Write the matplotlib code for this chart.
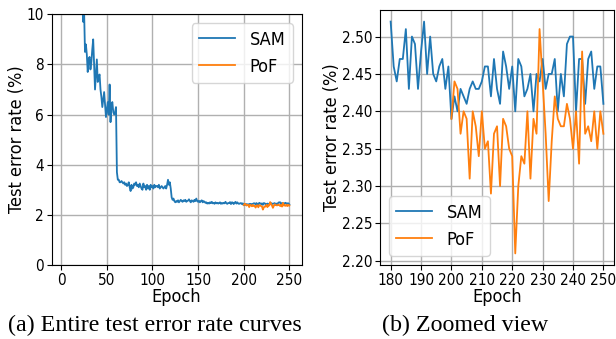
import matplotlib
matplotlib.use('Agg')
import matplotlib.pyplot as plt
import numpy as np

# SAM test error (%) per epoch (epochs 1..250)
sam_1_22 = [45, 32, 26, 22, 20, 18.5, 17, 16, 15.2, 14.5, 14, 13.5, 13, 12.7,
            12.4, 12, 11.8, 11.5, 11.3, 11.0, 10.8, 10.6]
sam_23_64 = [10.5, 9.7, 10.2, 8.5, 8.8, 8.4, 7.7, 8.2, 8.3, 7.8, 8.1, 8.6, 9.0, 8.0,
             7.0, 7.6, 8.2, 7.3, 7.5, 7.6, 7.0, 6.7, 6.3, 6.6, 6.9, 6.4, 5.9, 6.2,
             6.5, 6.0, 7.2, 5.7, 6.4, 6.5, 6.1, 6.0, 6.1, 6.3, 3.7, 3.4, 3.4, 3.3]
sam_65_120 = [3.3, 3.35, 3.3, 3.25, 3.3, 3.2, 3.25, 3.15, 3.2, 3.3, 3.1, 2.95, 3.2, 3.05,
              3.1, 3.25, 3.2, 3.3, 3.15, 3.2, 3.1, 3.25, 3.15, 3.05, 3.0, 3.25, 3.1, 3.15,
              3.0, 3.2, 3.05, 3.15, 3.0, 3.2, 3.1, 3.15, 3.05, 3.2, 3.1, 3.15, 3.15, 3.1,
              3.2, 3.05, 3.1, 3.15, 3.1, 3.05, 3.1, 3.15, 3.05, 3.2, 3.4, 3.2, 3.3, 3.05]
sam_121_179 = [2.7, 2.6, 2.65, 2.55, 2.5, 2.55, 2.52, 2.58, 2.5, 2.55, 2.6, 2.55, 2.52, 2.58,
               2.55, 2.6, 2.52, 2.55, 2.57, 2.62, 2.55, 2.5, 2.58, 2.55, 2.52, 2.6, 2.55, 2.65,
               2.55, 2.52, 2.56, 2.5, 2.55, 2.58, 2.5, 2.55, 2.52, 2.48, 2.5, 2.45, 2.48, 2.45,
               2.5, 2.47, 2.52, 2.46, 2.48, 2.44, 2.5, 2.46, 2.48, 2.45, 2.47, 2.5, 2.44, 2.47,
               2.45, 2.48, 2.46]
sam_180_250 = [2.52, 2.46, 2.44, 2.47, 2.47, 2.51, 2.43, 2.50, 2.49, 2.43, 2.48, 2.52, 2.45, 2.50,
               2.45, 2.44, 2.46, 2.47, 2.43, 2.46, 2.39, 2.42, 2.40, 2.43, 2.42, 2.41, 2.43, 2.44,
               2.43, 2.43, 2.44, 2.46, 2.46, 2.42, 2.47, 2.43, 2.41, 2.48, 2.46, 2.43, 2.46, 2.40,
               2.47, 2.46, 2.42, 2.43, 2.45, 2.40, 2.45, 2.44, 2.47, 2.43, 2.45, 2.45, 2.47, 2.40,
               2.45, 2.42, 2.49, 2.50, 2.50, 2.40, 2.47, 2.47, 2.41, 2.47, 2.48, 2.43, 2.46, 2.46,
               2.41]
# PoF test error (%) for epochs 200..250
pof_200_250 = [2.39, 2.44, 2.43, 2.37, 2.40, 2.39, 2.31, 2.40, 2.38, 2.34, 2.40, 2.35, 2.36, 2.29,
               2.37, 2.38, 2.30, 2.39, 2.38, 2.35, 2.34, 2.21, 2.30, 2.34, 2.33, 2.40, 2.31, 2.39,
               2.37, 2.51, 2.44, 2.37, 2.28, 2.36, 2.42, 2.39, 2.38, 2.38, 2.41, 2.39, 2.35, 2.40,
               2.33, 2.48, 2.37, 2.38, 2.36, 2.40, 2.35, 2.40, 2.37]

sam = np.array(sam_1_22 + sam_23_64 + sam_65_120 + sam_121_179 + sam_180_250)
sam_ep = np.arange(1, len(sam) + 1)
pof = np.array(pof_200_250)
pof_ep = np.arange(200, 200 + len(pof))

# the reference text looks horizontally squeezed -> condensed DejaVu
plt.rcParams['font.family'] = 'DejaVu Sans'
plt.rcParams['font.stretch'] = 'condensed'
tick_fs = 11
lab_fs = 13
leg_fs = 13

fig = plt.figure(figsize=(6.16, 3.39), dpi=100)

# (a) entire curves
ax1 = fig.add_axes([0.0839, 0.2183, 0.4058, 0.7395])
ax1.plot(sam_ep, sam, color='tab:blue', lw=1.3, label='SAM')
ax1.plot(pof_ep, pof, color='tab:orange', lw=1.3, label='PoF')
ax1.set_xlim(-10.5, 263.5)
ax1.set_ylim(0, 10)
ax1.set_xticks([0, 50, 100, 150, 200, 250])
ax1.set_yticks([0, 2, 4, 6, 8, 10])
ax1.grid(True, color='#b0b0b0', lw=1.0)
ax1.tick_params(labelsize=tick_fs, pad=2)
ax1.set_xlabel('Epoch', fontsize=lab_fs, labelpad=0)
ax1.set_ylabel('Test error rate (%)', fontsize=lab_fs, labelpad=0.5)
ax1.legend(loc='upper right', fontsize=leg_fs)

# (b) zoomed view
ax2 = fig.add_axes([0.6169, 0.2183, 0.3799, 0.7522])
ax2.plot(sam_ep[sam_ep >= 180], sam[sam_ep >= 180], color='tab:blue', lw=1.3, label='SAM')
ax2.plot(pof_ep, pof, color='tab:orange', lw=1.3, label='PoF')
ax2.set_xticks(np.arange(180, 251, 10))
ax2.set_yticks(np.arange(2.20, 2.501, 0.05))
ax2.yaxis.set_major_formatter(matplotlib.ticker.FormatStrFormatter('%.2f'))
ax2.grid(True, color='#b0b0b0', lw=1.0)
ax2.tick_params(labelsize=tick_fs, pad=2)
ax2.set_xlabel('Epoch', fontsize=lab_fs, labelpad=0)
ax2.set_ylabel('Test error rate (%)', fontsize=lab_fs, labelpad=0.5)
ax2.legend(loc='lower left', fontsize=leg_fs)

fig.text(0.252, 0.04, '(a) Entire test error rate curves', ha='center', va='center',
         family='Liberation Serif', fontstretch='normal', fontsize=17.3)
fig.text(0.755, 0.04, '(b) Zoomed view', ha='center', va='center',
         family='Liberation Serif', fontstretch='normal', fontsize=17.3)

fig.savefig('out.png', dpi=100)
